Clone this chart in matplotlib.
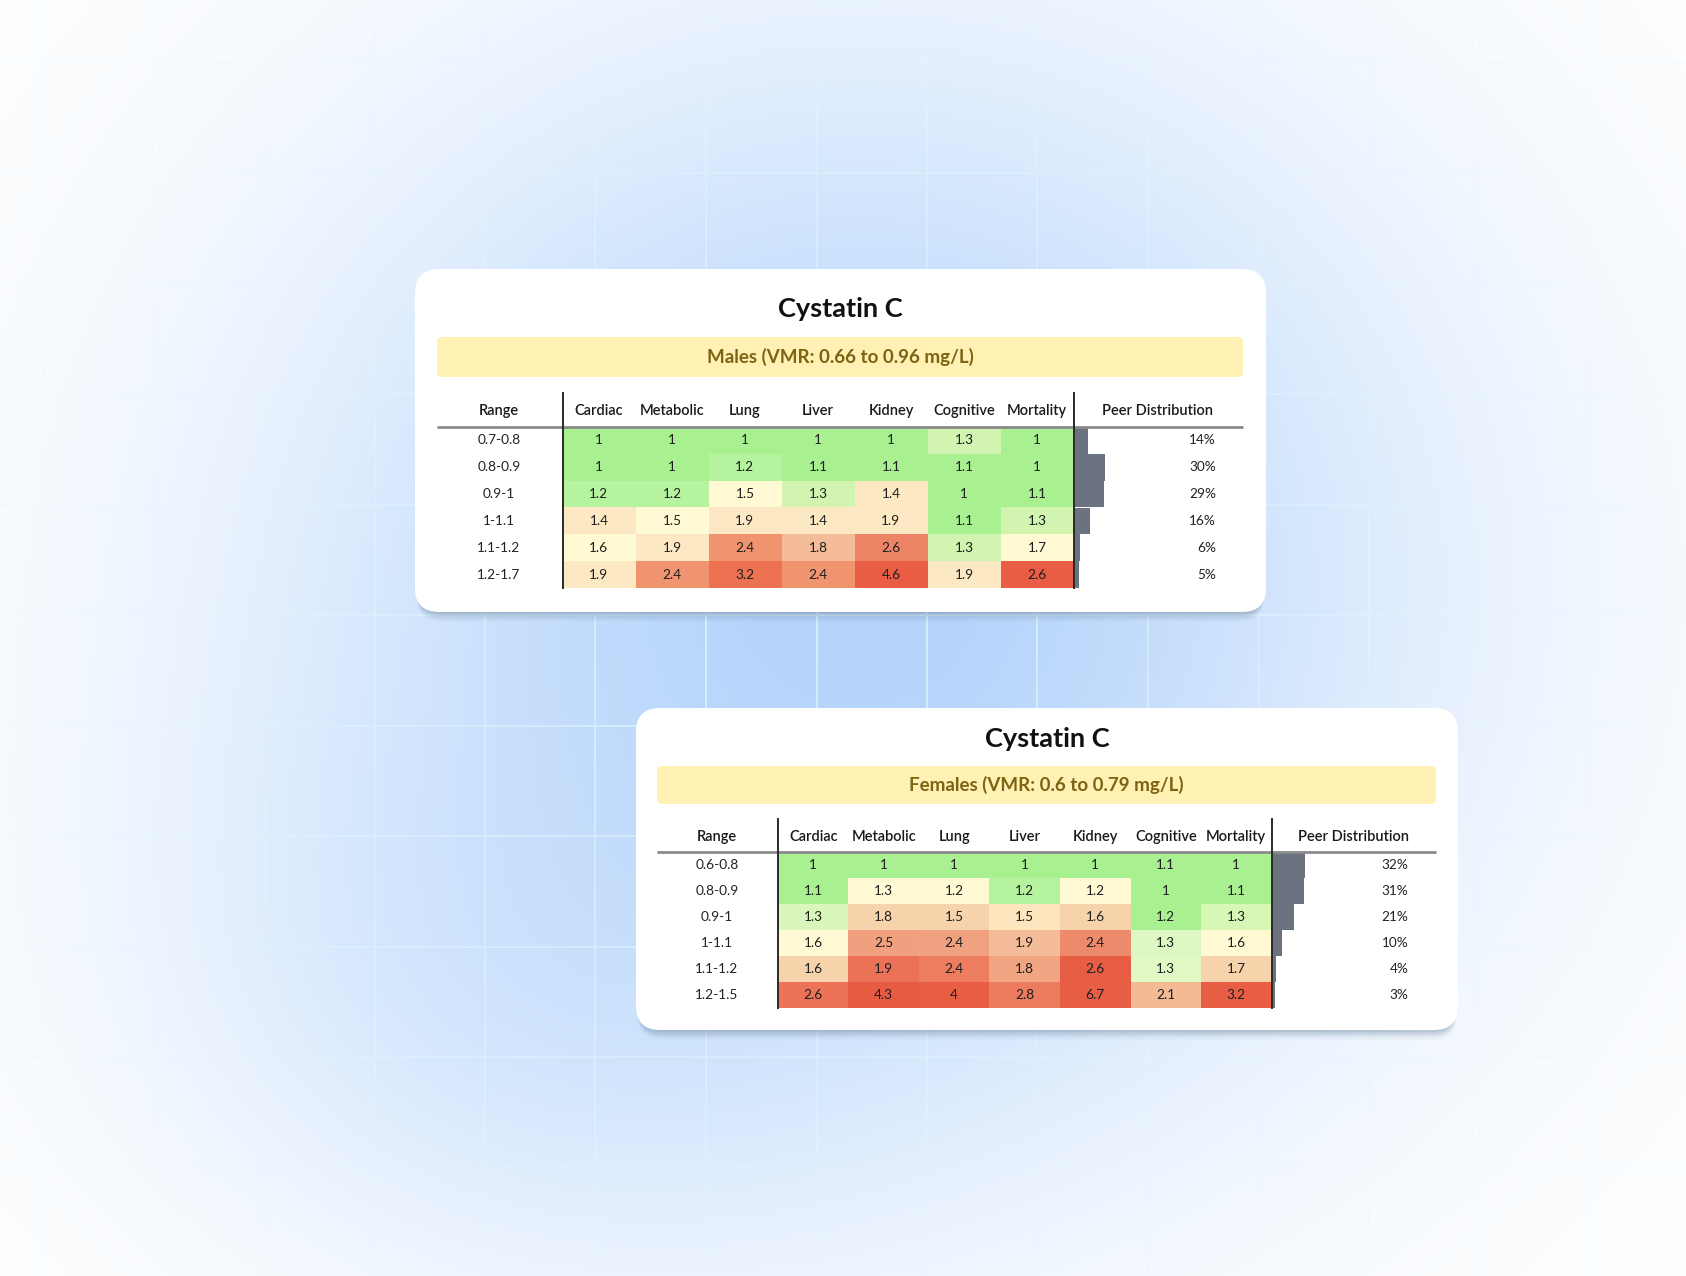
import numpy as np
import matplotlib
matplotlib.use("Agg")
import matplotlib.pyplot as plt
from matplotlib.patches import FancyBboxPatch
from matplotlib.colors import to_rgb

plt.rcParams['font.family'] = ['Lato', 'DejaVu Sans']

# ---------------- data ----------------
title = "Cystatin C"
columns = ["Cardiac", "Metabolic", "Lung", "Liver", "Kidney", "Cognitive", "Mortality"]

male_label = "Males (VMR: 0.66 to 0.96 mg/L)"
male_ranges = ["0.7-0.8", "0.8-0.9", "0.9-1", "1-1.1", "1.1-1.2", "1.2-1.7"]
male_values = [
    [1, 1, 1, 1, 1, 1.3, 1],
    [1, 1, 1.2, 1.1, 1.1, 1.1, 1],
    [1.2, 1.2, 1.5, 1.3, 1.4, 1, 1.1],
    [1.4, 1.5, 1.9, 1.4, 1.9, 1.1, 1.3],
    [1.6, 1.9, 2.4, 1.8, 2.6, 1.3, 1.7],
    [1.9, 2.4, 3.2, 2.4, 4.6, 1.9, 2.6],
]
male_peer = [14, 30, 29, 16, 6, 5]

female_label = "Females (VMR: 0.6 to 0.79 mg/L)"
female_ranges = ["0.6-0.8", "0.8-0.9", "0.9-1", "1-1.1", "1.1-1.2", "1.2-1.5"]
female_values = [
    [1, 1, 1, 1, 1, 1.1, 1],
    [1.1, 1.3, 1.2, 1.2, 1.2, 1, 1.1],
    [1.3, 1.8, 1.5, 1.5, 1.6, 1.2, 1.3],
    [1.6, 2.5, 2.4, 1.9, 2.4, 1.3, 1.6],
    [1.6, 1.9, 2.4, 1.8, 2.6, 1.3, 1.7],
    [2.6, 4.3, 4, 2.8, 6.7, 2.1, 3.2],
]
female_peer = [32, 31, 21, 10, 4, 3]

# ---------------- cell colours (style) ----------------
G1, G2, G3 = "#a9f190", "#b5f39e", "#d1f5b1"
Y, P1, P2, P3 = "#fffad3", "#fce9c3", "#f7d3ab", "#f4bc98"
male_colors = [
    [G1, G1, G1, G1, G1, G3, G1],
    [G1, G1, G2, G1, G1, G1, G1],
    [G2, G2, Y, G3, P1, G1, G1],
    [P1, Y, P1, P1, P1, G1, G3],
    [Y, P1, "#f09470", P3, "#ee8466", G3, Y],
    [P1, "#f09470", "#ec7252", "#f09470", "#e85d43", P1, "#e85d43"],
]
female_colors = [
    [G1, G1, G1, G1, G1, G1, G1],
    [G1, Y, Y, G2, Y, G1, G1],
    ["#d9f7bb", P2, P2, "#fde5bd", P2, G1, "#d6f7b5"],
    [Y, "#f0a07e", "#f0a17f", P3, "#ee8a6c", "#ddf8c3", Y],
    [P2, "#ec7257", "#ee7c5f", "#f1a583", "#e85e45", "#e2f9c6", P2],
    ["#ec7358", "#e85b43", "#e85d44", "#ed7b60", "#e85e45", "#f4ba94", "#e85e45"],
]

W, H = 1686, 1276
fig = plt.figure(figsize=(W / 100, H / 100), dpi=100)
ax = fig.add_axes([0, 0, 1, 1])

# ---------------- background ----------------
yy, xx = np.mgrid[0:H, 0:W].astype(float)
f1 = np.exp(-(((xx - 860) / 400.0) ** 2 + ((yy - 585) / 370.0) ** 2) / 2)
f2 = 0.45 * np.exp(-(((xx - 560) / 260.0) ** 2 + ((yy - 960) / 200.0) ** 2) / 2)
f = np.clip(f1 + f2 * (1 - f1), 0, 1)
blue = np.array(to_rgb("#b3d3fb"))
white = np.array([1.0, 1.0, 1.0])
bg = white * (1 - f[..., None]) + blue * f[..., None]
# faint grid
line = np.zeros((H, W))
for gx in np.arange(42, W, 110.5):
    i = int(round(gx))
    line[:, i:i + 2] = 1
for gy in np.arange(61.7, H, 110.5):
    i = int(round(gy))
    line[i:i + 2, :] = 1
la = (line * (0.12 + 0.6 * f))[..., None]
lc = np.array(to_rgb("#e0f6fe"))
bg = bg * (1 - la) + lc * la
ax.imshow(bg, extent=(0, W, H, 0), aspect='auto', zorder=0, interpolation='nearest')


def draw_card(box, band, title_y, sub_y, header_y, line_y, vx, vtop, rows_bottom,
              range_x, peer_x, pct_x, label, ranges, values, colors, peer):
    x0, x1, y0, y1 = box
    # shadow
    for off, a in [(10, 0.05), (8, 0.08), (6, 0.12), (4, 0.16), (2, 0.18)]:
        ax.add_patch(FancyBboxPatch((x0 + 2, y0 + off), x1 - x0 - 4, y1 - y0,
                                    boxstyle="round,pad=0,rounding_size=24",
                                    fc="#7890a8", ec="none", alpha=a, zorder=2))
    ax.add_patch(FancyBboxPatch((x0, y0), x1 - x0, y1 - y0,
                                boxstyle="round,pad=0,rounding_size=24",
                                fc="white", ec="none", zorder=3))
    cx = (x0 + x1) / 2
    ax.text(cx, title_y, title, ha='center', va='center', fontsize=19.5,
            fontweight='bold', color="#111111", zorder=5)
    bx0, bx1, by0, by1 = band
    ax.add_patch(FancyBboxPatch((bx0, by0), bx1 - bx0, by1 - by0,
                                boxstyle="round,pad=0,rounding_size=5",
                                fc="#fef1b3", ec="none", zorder=4))
    ax.text((bx0 + bx1) / 2, sub_y, label, ha='center', va='center', fontsize=13.5,
            fontweight='bold', color="#7d6414", zorder=5)

    # heat cells
    cell = np.array([[to_rgb(c) for c in row] for row in colors])
    ax.imshow(cell, extent=(vx[0], vx[1], rows_bottom, line_y), aspect='auto',
              interpolation='nearest', zorder=4)

    ncol = len(columns)
    nrow = len(ranges)
    cw = (vx[1] - vx[0]) / ncol
    rh = (rows_bottom - line_y) / nrow
    # header
    hkw = dict(ha='center', va='center', fontsize=10.5, fontweight='semibold',
               color="#1a1a1a", zorder=5)
    ax.text(range_x, header_y, "Range", **hkw)
    for j, c in enumerate(columns):
        ax.text(vx[0] + cw * (j + 0.5), header_y, c, **hkw)
    ax.text(peer_x, header_y, "Peer Distribution", **hkw)
    ax.plot([bx0, bx1], [line_y, line_y], color="#8a8a8a", lw=2, zorder=6,
            solid_capstyle='butt')
    # rows
    ycs = [line_y + rh * (i + 0.5) for i in range(nrow)]
    for i in range(nrow):
        ax.text(range_x, ycs[i], ranges[i], ha='center', va='center', fontsize=9.8,
                color="#222222", zorder=5)
        for j in range(ncol):
            ax.text(vx[0] + cw * (j + 0.5), ycs[i], f"{values[i][j]:g}", ha='center',
                    va='center', fontsize=9.8, color="#1e1e1e", zorder=5)
        ax.text(pct_x, ycs[i], f"{peer[i]}%", ha='right', va='center', fontsize=9.8,
                color="#222222", zorder=5)
    ax.barh(ycs, [p * 1.06 for p in peer], height=rh, left=vx[1], color="#6b7280",
            edgecolor='none', zorder=4)
    for x in vx:
        ax.plot([x, x], [vtop, rows_bottom], color="#2a2a2a", lw=1.4, zorder=6)


draw_card(box=(415, 1266, 269, 612), band=(437, 1243, 337, 377), title_y=309, sub_y=357,
          header_y=411, line_y=427, vx=(562.5, 1073.5), vtop=393, rows_bottom=588,
          range_x=499, peer_x=1158, pct_x=1216, label=male_label, ranges=male_ranges,
          values=male_values, colors=male_colors, peer=male_peer)

draw_card(box=(636, 1458, 708, 1030), band=(657, 1436, 766, 804), title_y=739, sub_y=785,
          header_y=837, line_y=852, vx=(778, 1271.5), vtop=819, rows_bottom=1008,
          range_x=717, peer_x=1353, pct_x=1408.5, label=female_label, ranges=female_ranges,
          values=female_values, colors=female_colors, peer=female_peer)

ax.set_xlim(0, W)
ax.set_ylim(H, 0)
ax.axis('off')
fig.savefig("out.png", dpi=100)
